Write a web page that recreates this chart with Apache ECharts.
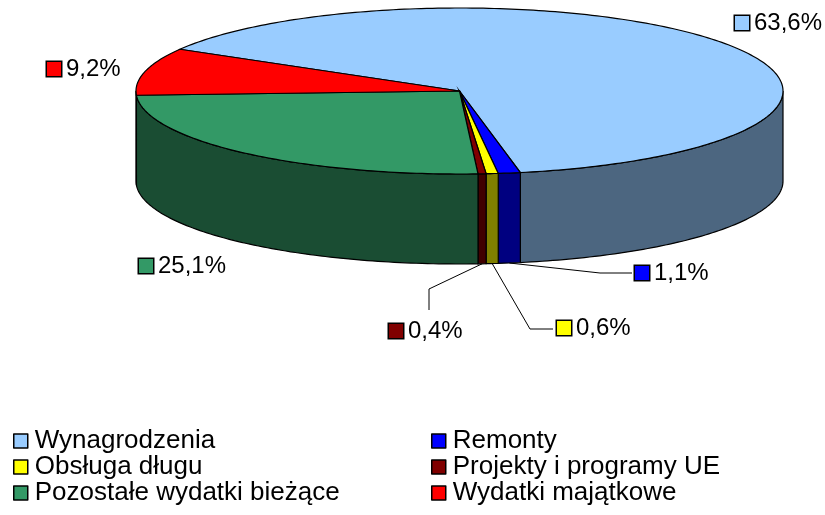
<!DOCTYPE html>
<html>
<head>
<meta charset="utf-8">
<script src="https://cdn.jsdelivr.net/npm/echarts@6/dist/echarts.min.js"></script>
<style>
html, body { margin: 0; padding: 0; background: #fff; }
#main { width: 825px; height: 515px; }
</style>
</head>
<body>
<div id="main"></div>
<script>
var names = ['Wynagrodzenia', 'Remonty', 'Obsługa długu', 'Projekty i programy UE', 'Pozostałe wydatki bieżące', 'Wydatki majątkowe'];
var values = [63.6, 1.1, 0.6, 0.4, 25.1, 9.2];

var topColors = ['#99CCFF', '#0000FF', '#FFFF00', '#800000', '#339966', '#FF0000'];
var sideColors = ['#4C6680', '#000080', '#808000', '#400000', '#1A4D33', '#800000'];

// where each data label sits (left of key square, vertical middle)
var labelPos = [[735, 23], [635, 273], [557, 328], [389, 331], [139, 266], [47, 69]];
// leader line bends (start comes from the slice itself)
var leaderPts = [null, [[600, 273], [632, 273]], [[530, 329], [553, 329]], [[429, 289], [429, 310]], null, null];

var cx = 459.5, cy = 91, rx = 323.5, ry = 83, depth = 90;
var startAngle = 300.2; // degrees clockwise from 12 o'clock
var font = 'Liberation Sans, Arial, sans-serif';

var total = 0;
values.forEach(function (v) { total += v; });
var starts = [];
var acc = startAngle;
values.forEach(function (v) { starts.push(acc); acc += v / total * 360; });

function pt(a, dy) {
    var r = a * Math.PI / 180;
    return [cx + rx * Math.sin(r), cy - ry * Math.cos(r) + dy];
}
function arc(from, to, dy) {
    var n = Math.max(2, Math.ceil(Math.abs(to - from)));
    var pts = [];
    for (var j = 0; j <= n; j++) {
        pts.push(pt(from + (to - from) * j / n, dy));
    }
    return pts;
}
function pct(v) {
    return (v / total * 100).toFixed(1).replace('.', ',') + '%';
}

function renderItem(params, api) {
    var i = params.dataIndex;
    var a0 = starts[i];
    var a1 = a0 + api.value(0) / total * 360;
    var children = [];
    // front side wall (only the part facing us)
    for (var k = -1; k <= 2; k++) {
        var lo = Math.max(a0, 90 + 360 * k), hi = Math.min(a1, 270 + 360 * k);
        if (hi > lo) {
            children.push({
                type: 'polygon', z2: 1,
                shape: { points: arc(lo, hi, 0).concat(arc(hi, lo, depth)) },
                style: { fill: sideColors[i], stroke: '#000', lineWidth: 1.2 }
            });
        }
    }
    // top face
    children.push({
        type: 'polygon', z2: 2,
        shape: { points: [[cx, cy]].concat(arc(a0, a1, 0)) },
        style: { fill: topColors[i], stroke: '#000', lineWidth: 1.2 }
    });
    // leader line
    if (leaderPts[i]) {
        var mid = (a0 + a1) / 2;
        children.push({
            type: 'polyline', z2: 3,
            shape: { points: [pt(mid, depth)].concat(leaderPts[i]) },
            style: { fill: null, stroke: '#000', lineWidth: 1 }
        });
    }
    // label with legend key
    children.push({
        type: 'text', z2: 4,
        x: labelPos[i][0], y: labelPos[i][1],
        style: {
            text: '{k|}{t|' + pct(api.value(0)) + '}',
            align: 'left', verticalAlign: 'middle',
            fill: '#000',
            rich: {
                k: { width: 14, height: 14, backgroundColor: topColors[i], borderColor: '#000', borderWidth: 1.5 },
                t: { fontSize: 24, fontFamily: font, fill: '#000', padding: [0, 0, 0, 5] }
            }
        }
    });
    return { type: 'group', children: children };
}

var myChart = echarts.init(document.getElementById('main'));

var legendBase = {
    orient: 'vertical',
    top: 428,
    padding: 0,
    itemWidth: 14,
    itemHeight: 14,
    itemGap: 0,
    icon: 'rect',
    selectedMode: false,
    textStyle: { fontSize: 26, fontFamily: font, color: '#000', lineHeight: 23, padding: [0, 0, 0, 2] },
    itemStyle: { borderColor: '#000', borderWidth: 1.5 }
};

var option = {
    animation: false,
    legend: [
        echarts.util.merge({ left: 13, data: [names[0], names[2], names[4]] }, legendBase),
        echarts.util.merge({ left: 431, data: [names[1], names[3], names[5]] }, legendBase)
    ],
    series: [
        {
            // only feeds the legend
            type: 'pie',
            radius: [0, 0],
            silent: true,
            label: { show: false },
            labelLine: { show: false },
            data: names.map(function (n, i) {
                return { name: n, value: values[i], itemStyle: { color: topColors[i] } };
            })
        },
        {
            type: 'custom',
            coordinateSystem: 'none',
            silent: true,
            renderItem: renderItem,
            data: values
        }
    ]
};

myChart.setOption(option);
</script>
</body>
</html>
